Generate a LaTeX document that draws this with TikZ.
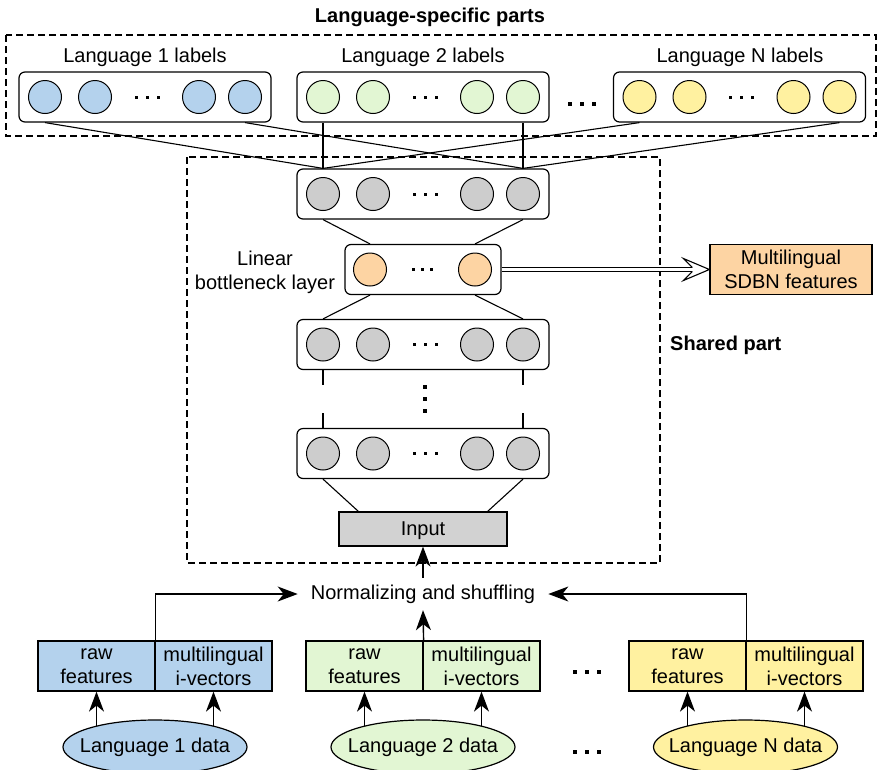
\documentclass[tikz,border=0pt]{standalone}
\usepackage{fontspec}
\setmainfont{Liberation Sans}
\usetikzlibrary{arrows.meta,calc,shapes.geometric,backgrounds}

\definecolor{cblue}{HTML}{B4D2ED}
\definecolor{cgreen}{HTML}{E2F6D3}
\definecolor{cyellow}{HTML}{FFF1A0}
\definecolor{corange}{HTML}{FDD4A3}
\definecolor{cgray}{HTML}{CDCDCD}
\definecolor{cinput}{HTML}{D2D2D2}

% a row of four units in a rounded box: name, centre x, centre y, fill colour
\newcommand\UnitRow[4]{%
  \node[layerbox, minimum width=252pt] (#1) at (#2,#3) {};
  \node[unit=#4] (#1a) at ($(#1)+(-100,0)$) {};
  \node[unit=#4] (#1b) at ($(#1)+(-50,0)$) {};
  \node[unit=#4] (#1c) at ($(#1)+(54,0)$) {};
  \node[unit=#4] (#1d) at ($(#1)+(100,0)$) {};
  \path (#1b) -- (#1c) coordinate[midway] (#1dots);
  \foreach \d in {-11,0,11}{\fill ([xshift=\d pt]#1dots) +(-1.5,-1.5) rectangle +(1.5,1.5);}
}
% three large square dots in a row
\newcommand\BigDots[1]{%
  \foreach \d in {-12,0,12}{\fill ([xshift=\d pt]#1) +(-2,-2) rectangle +(2,2);}
}

\begin{document}
\begin{tikzpicture}[x=1pt,y=-1pt,
  every node/.style={font=\fontsize{20}{24}\selectfont, inner sep=0pt},
  bold/.style={font=\fontsize{20}{24}\selectfont\bfseries},
  layerbox/.style={draw, line width=1.2pt, rounded corners=6pt, fill=white, minimum height=50pt},
  unit/.style={draw, circle, line width=1pt, minimum size=33pt, fill=#1},
  group/.style={draw, dash pattern=on 7pt off 4pt, line width=1.1pt},
  link/.style={line width=1.1pt},
  arrowhead/.tip={Stealth[length=20pt,width=15pt,inset=6pt]},
  arr/.style={line width=1.4pt, arrows={-arrowhead}},
  featbox/.style={draw, line width=1.2pt, fill=#1, minimum width=117pt, minimum height=50pt, align=center},
  datanode/.style={draw, ellipse, line width=1.2pt, fill=#1, minimum width=184pt, minimum height=54pt,
    text height=14pt, text depth=4pt},
  ]
\useasboundingbox (0,0) rectangle (877,769);

% dashed groupings
\draw[group] (6,35) rectangle (876,136);
\draw[group] (187,157) rectangle (660,563);
\node[bold, anchor=base] (title) at (430,22) {Language-specific parts};
\node[bold, anchor=base west] (shared) at (670,350) {Shared part};

% language-specific output layers
\node[anchor=base] (t1) at (145,62) {Language 1 labels};
\node[anchor=base] (t2) at (423,62) {Language 2 labels};
\node[anchor=base] (tN) at (740,62) {Language N labels};
\UnitRow{L1}{145}{97}{cblue}
\UnitRow{L2}{423}{97}{cgreen}
\UnitRow{LN}{739.5}{97}{cyellow}
\coordinate (outdots) at (582,104);
\BigDots{outdots}

% shared hidden layers
\UnitRow{H1}{423}{194}{cgray}
\node[layerbox, minimum width=156pt] (B) at (423,269.5) {};
\node[unit=corange] (Ba) at (370,269.5) {};
\node[unit=corange] (Bb) at (475,269.5) {};
\path (Ba) -- (Bb) coordinate[midway] (Bdots);
\foreach \d in {-9,0,9}{\fill ([xshift=\d pt]Bdots) +(-1.5,-1.5) rectangle +(1.5,1.5);}
\node[align=center] (blabel) at (265,272) {Linear\\bottleneck layer};
\UnitRow{H2}{423}{344.5}{cgray}
\UnitRow{H3}{423}{453.5}{cgray}
\node[draw, line width=1.2pt, fill=cinput, minimum width=168pt, minimum height=34pt,
  text height=14pt, text depth=1pt] (In) at (423,529) {Input};

% output features
\node[draw, line width=1.2pt, fill=corange, minimum width=162pt, minimum height=50pt, align=center] (S) at (791,269.5) {Multilingual\\SDBN features};

% connections from label layers to the first shared layer
\draw[link] (L1a |- L1.south) -- (H1a |- H1.north);
\draw[link] (L1d |- L1.south) -- (H1d |- H1.north);
\draw[link] (L2a |- L2.south) -- (H1a |- H1.north);
\draw[link] (L2d |- L2.south) -- (H1d |- H1.north);
\draw[link] (LNa |- LN.south) -- (H1a |- H1.north);
\draw[link] (LNd |- LN.south) -- (H1d |- H1.north);

% connections between shared layers
\draw[link] (H1a |- H1.south) -- (Ba |- B.north);
\draw[link] (H1d |- H1.south) -- (Bb |- B.north);
\draw[link] (Ba |- B.south) -- (H2a |- H2.north);
\draw[link] (Bb |- B.south) -- (H2d |- H2.north);
\draw[link] (H2a |- H2.south) -- ++(0,15);
\draw[link] (H2d |- H2.south) -- ++(0,15);
\draw[link] (H3a |- H3.north) -- ++(0,-15);
\draw[link] (H3d |- H3.north) -- ++(0,-15);
\path (H2.south) -- (H3.north) coordinate[midway] (vmid);
\foreach \d in {-12,0,12}{\fill ([xshift=2pt,yshift=\d pt]vmid) +(-2,-2) rectangle +(2,2);}
\draw[link] (H3a |- H3.south) -- ([xshift=20pt]In.north west);
\draw[link] (H3d |- H3.south) -- ([xshift=-20pt]In.north east);

% bottleneck output: hollow double arrow
\draw[line width=1pt, double, double distance=3pt] (B.east) -- ([xshift=-17pt]S.west);
\draw[line width=1.1pt, fill=white, line join=miter]
  ([xshift=-17pt,yshift=2pt]S.west) -- ([xshift=-26pt,yshift=11pt]S.west) -- (S.west)
  -- ([xshift=-26pt,yshift=-11pt]S.west) -- ([xshift=-17pt,yshift=-2pt]S.west);

% per-language data and features
\node[featbox=cblue] (r1) at (96.5,666) {raw\\features};
\node[featbox=cblue] (m1) at (213.5,666) {multilingual\\i-vectors};
\node[featbox=cgreen] (r2) at (364.5,666) {raw\\features};
\node[featbox=cgreen] (m2) at (481.5,666) {multilingual\\i-vectors};
\node[featbox=cyellow] (rN) at (687.5,666) {raw\\features};
\node[featbox=cyellow] (mN) at (804.5,666) {multilingual\\i-vectors};
\node[datanode=cblue] (d1) at (155,747) {\makebox[0pt]{Language 1 data}};
\node[datanode=cgreen] (d2) at (423,747) {\makebox[0pt]{Language 2 data}};
\node[datanode=cyellow] (dN) at (745.5,747) {\makebox[0pt]{Language N data}};
\coordinate (featdots) at (587,672);
\BigDots{featdots}
\coordinate (datadots) at (587,752);
\BigDots{datadots}

\node[minimum height=32pt, inner xsep=13pt] (norm) at (423,594) {Normalizing and shuffling};

\begin{scope}[on background layer]
  \draw[arr] (r1 |- d1) -- (r1.south);
  \draw[arr] (m1 |- d1) -- (m1.south);
  \draw[arr] (r2 |- d2) -- (r2.south);
  \draw[arr] (m2 |- d2) -- (m2.south);
  \draw[arr] (rN |- dN) -- (rN.south);
  \draw[arr] (mN |- dN) -- (mN.south);
\end{scope}

\draw[arr] (r1.north east) |- (norm.west);
\draw[arr] (rN.north east) |- (norm.east);
\draw[arr] (r2.north east) -- (norm.south);
\draw[arr] (norm.north) -- (In.south);
\end{tikzpicture}
\end{document}
